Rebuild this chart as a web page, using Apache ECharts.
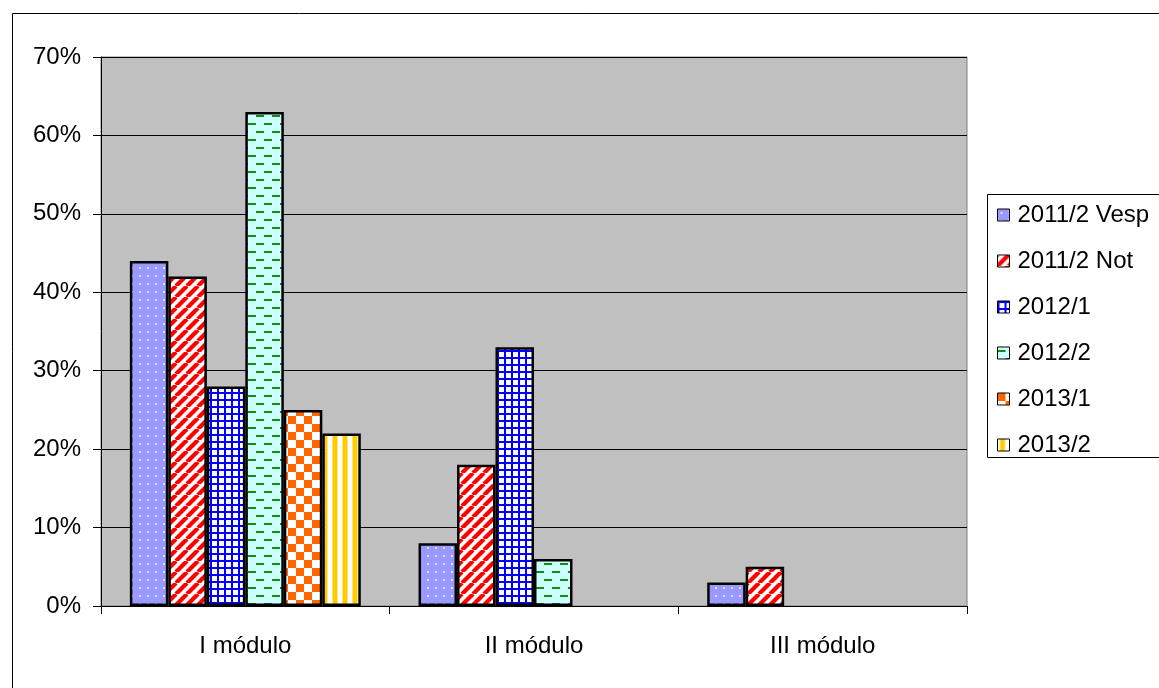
<!DOCTYPE html>
<html>
<head>
<meta charset="utf-8">
<script src="https://cdn.jsdelivr.net/npm/echarts@6/dist/echarts.min.js"></script>
<style>
html,body{margin:0;padding:0;background:#fff;}
#chart{width:1159px;height:688px;}
</style>
</head>
<body>
<div id="chart"></div>
<script>
const categories = ['I módulo', 'II módulo', 'III módulo'];
const seriesNames = ['2011/2 Vesp', '2011/2 Not', '2012/1', '2012/2', '2013/1', '2013/2'];
const vesp2011 = [44, 8, 3];
const not2011 = [42, 18, 5];
const s2012_1 = [28, 33, null];
const s2012_2 = [63, 6, null];
const s2013_1 = [25, null, null];
const s2013_2 = [22, null, null];
const yTicks = [0, 10, 20, 30, 40, 50, 60, 70];

function makePattern(w, h, draw) {
  const c = document.createElement('canvas');
  c.width = w; c.height = h;
  const ctx = c.getContext('2d');
  draw(ctx, w, h);
  return { image: c, repeat: 'repeat' };
}

const patVesp = makePattern(8, 8, (ctx, w, h) => {
  ctx.fillStyle = '#9999FF'; ctx.fillRect(0, 0, w, h);
  ctx.fillStyle = '#E0E0FF'; ctx.fillRect(3, 3, 2, 2);
});
const patNot = makePattern(11, 11, (ctx, w, h) => {
  ctx.fillStyle = '#FFFFFF'; ctx.fillRect(0, 0, w, h);
  ctx.strokeStyle = '#FF0000'; ctx.lineWidth = 4.2;
  for (let k = -1; k <= 2; k++) {
    ctx.beginPath();
    ctx.moveTo(k * w - w, h);
    ctx.lineTo(k * w, 0);
    ctx.stroke();
  }
});
const patGrid = makePattern(7, 7, (ctx, w, h) => {
  ctx.fillStyle = '#FFFFFF'; ctx.fillRect(0, 0, w, h);
  ctx.fillStyle = '#0000FF';
  ctx.fillRect(0, 0, w, 2);
  ctx.fillRect(0, 0, 2, h);
});
const patDash = makePattern(16, 16, (ctx, w, h) => {
  ctx.fillStyle = '#CCFFFF'; ctx.fillRect(0, 0, w, h);
  ctx.fillStyle = '#138A13';
  ctx.fillRect(0, 3, 8, 2);
  ctx.fillRect(8, 11, 8, 2);
});
const patCheck = makePattern(16, 16, (ctx, w, h) => {
  ctx.fillStyle = '#FFFFFF'; ctx.fillRect(0, 0, w, h);
  ctx.fillStyle = '#FF6600';
  ctx.fillRect(0, 0, 8, 8);
  ctx.fillRect(8, 8, 8, 8);
});
const patVert = makePattern(10, 10, (ctx, w, h) => {
  ctx.fillStyle = '#FFFFFF'; ctx.fillRect(0, 0, w, h);
  ctx.fillStyle = '#FFE680'; ctx.fillRect(2, 0, 1, h); ctx.fillRect(7, 0, 1, h);
  ctx.fillStyle = '#FFCC00'; ctx.fillRect(3, 0, 4, h);
});

const patterns = [patVesp, patNot, patGrid, patDash, patCheck, patVert];
const seriesData = [vesp2011, not2011, s2012_1, s2012_2, s2013_1, s2013_2];

const FONT = 'Liberation Sans, Arial, sans-serif';
const chart = echarts.init(document.getElementById('chart'));
chart.setOption({
  backgroundColor: '#ffffff',
  animation: false,
  textStyle: { fontFamily: FONT, color: '#000' },
  graphic: [{
    type: 'rect', left: 10, top: 11, silent: true, z: -1,
    shape: { x: 0, y: 0, width: 1300, height: 800 },
    style: { fill: 'none', stroke: '#000', lineWidth: 1 }
  }, {
    type: 'rect', left: 987, top: 194, silent: true, z: -1,
    shape: { x: 0, y: 0, width: 300, height: 263 },
    style: { fill: '#fff', stroke: '#000', lineWidth: 1 }
  }],
  grid: {
    left: 101, top: 57, right: 192, bottom: 82,
    show: true, backgroundColor: '#C0C0C0', borderColor: '#808080', borderWidth: 1
  },
  legend: {
    orient: 'vertical', left: 987, top: 194,
    data: seriesNames,
    padding: [8, 10, 1, 10],
    itemWidth: 12, itemHeight: 12, itemGap: 20,
    icon: 'rect',
    itemStyle: { borderWidth: 1, borderColor: '#000' },
    textStyle: { fontFamily: FONT, fontSize: 24, color: '#000', lineHeight: 26, padding: [0, 0, 0, 3] }
  },
  xAxis: {
    type: 'category', data: categories,
    axisLine: { lineStyle: { color: '#000', width: 1 } },
    axisTick: { show: true, length: 8, lineStyle: { color: '#000' } },
    axisLabel: { fontFamily: FONT, fontSize: 24, color: '#000', margin: 28 },
    splitLine: { show: false }
  },
  yAxis: {
    type: 'value', min: yTicks[0], max: yTicks[yTicks.length - 1], interval: 10,
    axisLine: { show: true, lineStyle: { color: '#000', width: 1 } },
    axisTick: { show: true, length: 8, lineStyle: { color: '#000' } },
    axisLabel: { fontFamily: FONT, fontSize: 24, color: '#000', margin: 20, formatter: '{value}%' },
    splitLine: { show: true, lineStyle: { color: '#000', width: 1 } }
  },
  series: seriesNames.map((name, i) => ({
    name: name,
    type: 'bar',
    data: seriesData[i],
    barGap: '0%',
    barCategoryGap: '20%',
    itemStyle: { color: patterns[i], borderColor: '#000', borderWidth: 2.5 }
  }))
});
</script>
</body>
</html>
